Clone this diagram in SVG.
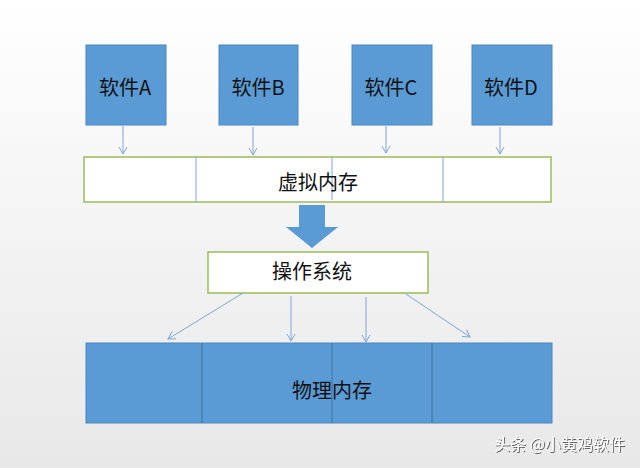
<svg xmlns="http://www.w3.org/2000/svg" width="640" height="468" viewBox="0 0 640 468">
<defs>
<linearGradient id="bg" x1="0" y1="0" x2="0" y2="1">
<stop offset="0" stop-color="#ffffff"/>
<stop offset="1" stop-color="#e8e8e8"/>
</linearGradient>
<marker id="ah" markerWidth="10" markerHeight="10" refX="8" refY="5" orient="auto" markerUnits="userSpaceOnUse">
<path d="M1,1 L8,5 L1,9" fill="none" stroke="#7ea6d6" stroke-width="1"/>
</marker>
<filter id="sh" x="-10%" y="-10%" width="120%" height="130%">
<feDropShadow dx="1" dy="1" stdDeviation="0.6" flood-color="#555" flood-opacity="0.9"/>
</filter>
</defs>
<style>
.sw{fill:#5b9bd5;stroke:#4a86c0;stroke-width:1}
.wb{fill:#ffffff;stroke:#9bbb59;stroke-width:1.5}
.t{font-family:"Noto Sans CJK SC","Liberation Sans",sans-serif;font-size:20px;fill:#111;text-anchor:middle;dominant-baseline:central}
.c{stroke:#7ea6d6;stroke-width:1;fill:none;marker-end:url(#ah)}
.div{stroke:#7ea6d6;stroke-width:1}
.pdiv{stroke:#41719c;stroke-width:1}
</style>
<rect width="640" height="468" fill="url(#bg)"/>
<g id="softA"><rect class="sw" x="86" y="45" width="80" height="80"/><text class="t" x="125" y="86">软件A</text></g>
<g id="softB"><rect class="sw" x="219" y="45" width="79" height="80"/><text class="t" x="258" y="86">软件B</text></g>
<g id="softC"><rect class="sw" x="352" y="45" width="80" height="80"/><text class="t" x="391" y="86">软件C</text></g>
<g id="softD"><rect class="sw" x="472" y="45" width="80" height="80"/><text class="t" x="511" y="86">软件D</text></g>
<g id="vmem"><rect class="wb" x="84" y="157" width="467" height="45"/>
<line class="div" x1="196" y1="157" x2="196" y2="202"/>
<line class="div" x1="332" y1="157" x2="332" y2="200"/>
<line class="div" x1="443" y1="157" x2="443" y2="202"/>
<text class="t" x="318" y="181">虚拟内存</text></g>
<g id="bigarrow"><path d="M299,205 H325 V227 H338 L312,248 L286,227 H299 Z" fill="#5b9bd5"/></g>
<g id="os"><rect class="wb" x="208" y="252" width="220" height="41"/><text class="t" x="312" y="270">操作系统</text></g>
<g id="pmem"><rect class="sw" x="86" y="343" width="466" height="80" stroke="#41719c"/>
<line class="pdiv" x1="202" y1="343" x2="202" y2="423"/>
<line class="pdiv" x1="332" y1="343" x2="332" y2="423"/>
<line class="pdiv" x1="432" y1="343" x2="432" y2="423"/>
<text class="t" x="332" y="389">物理内存</text></g>
<g id="connectors">
<line class="c" x1="123" y1="126" x2="123" y2="154"/>
<line class="c" x1="253" y1="127" x2="253" y2="155"/>
<line class="c" x1="386" y1="126" x2="386" y2="153"/>
<line class="c" x1="500" y1="127" x2="500" y2="154"/>
<line class="c" x1="243" y1="293" x2="168" y2="339"/>
<line class="c" x1="291" y1="296" x2="291" y2="341"/>
<line class="c" x1="366" y1="297" x2="366" y2="342"/>
<line class="c" x1="406" y1="294" x2="470" y2="337"/>
</g>
<text x="625" y="450" font-family="Noto Sans CJK SC,Liberation Sans,sans-serif" font-size="16" fill="#ffffff" text-anchor="end" filter="url(#sh)">头条 @小黄鸡软件</text>
</svg>
